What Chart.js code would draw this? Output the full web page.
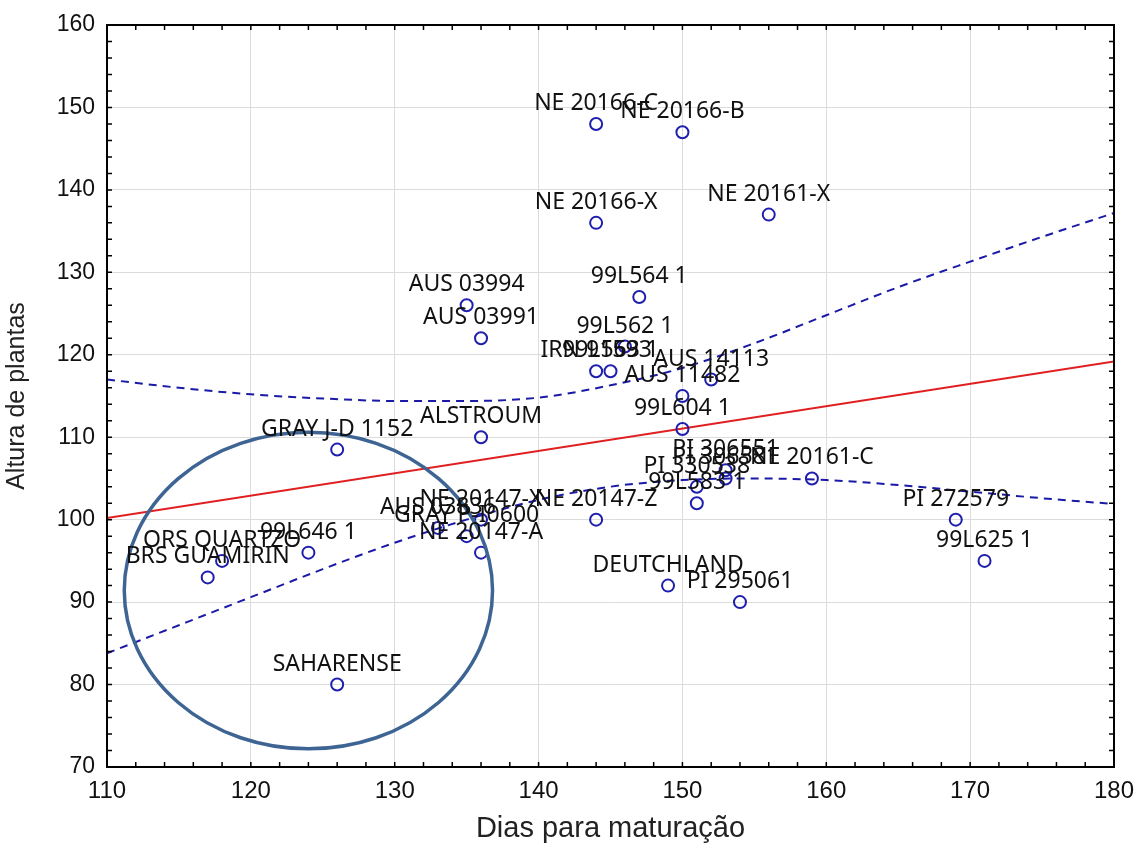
<!DOCTYPE html>
<html>
<head>
<meta charset="utf-8">
<script src="https://cdn.jsdelivr.net/npm/chart.js@4"></script>
<style>
  body { margin: 0; background: #fff; }
  #wrap { width: 1138px; height: 848px; }
</style>
</head>
<body>
<div id="wrap"><canvas id="chart" width="1138" height="848"></canvas></div>
<script>
// genotypes: days to maturity vs plant height
var genotypes = ["NE 20166-C", "NE 20166-B", "NE 20166-X", "NE 20161-X", "AUS 03994", "AUS 03991",
    "99L564 1", "99L562 1", "IRN 91593", "99L563 1", "AUS 14113", "AUS 11482", "ALSTROUM", "99L604 1",
    "GRAY J-D 1152", "AUS 03836", "NE 20147-X", "GRAY P-I0600", "NE 20147-A", "NE 20147-Z", "99L646 1",
    "ORS QUARTZO", "BRS GUAMIRIN", "SAHARENSE", "DEUTCHLAND", "PI 295061", "PI 306551", "PI 306581",
    "PI 330538", "99L583 1", "NE 20161-C", "PI 272579", "99L625 1"];
var dias = [144, 150, 144, 156, 135, 136, 147, 146, 144, 145, 152, 150, 136, 150,
    126, 133, 136, 135, 136, 144, 124, 118, 117, 126, 149, 154, 153, 153, 151, 151, 159, 169, 171];
var altura = [148, 147, 136, 137, 126, 122, 127, 121, 118, 118, 117, 115, 110, 111,
    108.5, 99, 100, 98, 96, 100, 96, 95, 93, 80, 92, 90, 106, 105, 104, 102, 105, 100, 95];

// fitted line and its confidence band
var retaX = [110, 180];
var retaY = [100.2, 119.2];
var bandaX = [110, 115, 120, 125, 130, 135, 140, 145, 150, 155, 160, 165, 170, 175, 180];
var bandaSup = [117.0, 116.0, 115.2, 114.7, 114.4, 114.4, 114.8, 116.3, 118.4, 121.4, 124.8, 128.2, 131.3, 134.3, 137.2];
var bandaInf = [83.8, 87.2, 90.6, 94.0, 97.2, 100.0, 102.4, 104.0, 104.8, 105.0, 104.8, 104.2, 103.4, 102.6, 101.9];

// highlighted group (centre and radii in axis units)
var grupo = { x: 124.0, y: 91.4, rx: 12.8, ry: 19.2 };

function pares(xs, ys) {
    return xs.map(function (x, i) { return { x: x, y: ys[i] }; });
}

var moldura = {
    id: 'moldura',
    afterDatasetsDraw: function (chart) {
        var ctx = chart.ctx, a = chart.chartArea;
        var sx = chart.scales.x, sy = chart.scales.y;
        ctx.save();

        // circled group
        ctx.beginPath();
        var cx = sx.getPixelForValue(grupo.x), cy = sy.getPixelForValue(grupo.y);
        var rx = Math.abs(sx.getPixelForValue(grupo.x + grupo.rx) - cx);
        var ry = Math.abs(sy.getPixelForValue(grupo.y + grupo.ry) - cy);
        ctx.ellipse(cx, cy, rx, ry, 0, 0, Math.PI * 2);
        ctx.strokeStyle = '#3e6494';
        ctx.lineWidth = 3.5;
        ctx.stroke();

        // point labels
        ctx.fillStyle = '#111';
        ctx.font = '23px "Noto Sans"';
        ctx.textAlign = 'center';
        ctx.textBaseline = 'alphabetic';
        genotypes.forEach(function (g, i) {
            ctx.fillText(g, sx.getPixelForValue(dias[i]), sy.getPixelForValue(altura[i]) - 14);
        });

        // frame with inner minor ticks
        ctx.strokeStyle = '#000';
        ctx.lineWidth = 2;
        ctx.strokeRect(a.left, a.top, a.right - a.left, a.bottom - a.top);
        ctx.lineWidth = 1.5;
        ctx.beginPath();
        for (var v = 112; v < 180; v += 2) {
            var px = sx.getPixelForValue(v);
            ctx.moveTo(px, a.bottom); ctx.lineTo(px, a.bottom - 5);
            ctx.moveTo(px, a.top); ctx.lineTo(px, a.top + 5);
        }
        for (var w = 72; w < 160; w += 2) {
            var py = sy.getPixelForValue(w);
            ctx.moveTo(a.left, py); ctx.lineTo(a.left + 5, py);
            ctx.moveTo(a.right, py); ctx.lineTo(a.right - 5, py);
        }
        ctx.stroke();
        ctx.restore();
    }
};

new Chart(document.getElementById('chart'), {
    type: 'scatter',
    data: {
        datasets: [{
            data: pares(dias, altura),
            pointRadius: 6,
            pointBorderWidth: 2,
            borderColor: '#1f1fae',
            backgroundColor: 'rgba(0,0,0,0)',
            order: 0
        }, {
            data: pares(retaX, retaY),
            showLine: true,
            borderColor: '#e02020',
            borderWidth: 2,
            pointRadius: 0,
            order: 1
        }, {
            data: pares(bandaX, bandaSup),
            showLine: true,
            borderColor: '#1a1aa6',
            borderWidth: 2,
            borderDash: [8, 6],
            cubicInterpolationMode: 'monotone',
            pointRadius: 0,
            order: 2
        }, {
            data: pares(bandaX, bandaInf),
            showLine: true,
            borderColor: '#1a1aa6',
            borderWidth: 2,
            borderDash: [8, 6],
            cubicInterpolationMode: 'monotone',
            pointRadius: 0,
            order: 2
        }]
    },
    options: {
        responsive: false,
        animation: false,
        layout: { padding: { left: 0, right: 24, top: 25, bottom: 0 } },
        plugins: { legend: { display: false }, tooltip: { enabled: false } },
        scales: {
            x: {
                type: 'linear', min: 110, max: 180,
                afterFit: function (s) { s.height = 81; s.paddingLeft = 0; s.paddingRight = 0; },
                ticks: { stepSize: 10, padding: 10, color: '#111', font: { family: '"Liberation Sans"', size: 24 } },
                grid: { color: '#dcdcdc', drawTicks: false },
                border: { display: false },
                title: { display: true, text: 'Dias para maturação', color: '#222', padding: { top: 4, bottom: 2 },
                    font: { family: '"Liberation Sans"', size: 29 } }
            },
            y: {
                type: 'linear', min: 70, max: 160,
                afterFit: function (s) { s.width = 107; s.paddingTop = 0; s.paddingBottom = 0; },
                ticks: { stepSize: 10, padding: 12, color: '#111', font: { family: '"Liberation Sans"', size: 23 } },
                grid: { color: '#dcdcdc', drawTicks: false },
                border: { display: false },
                title: { display: true, text: 'Altura de plantas', color: '#222', padding: { top: 2, bottom: 4 },
                    font: { family: '"Liberation Sans"', size: 25 } }
            }
        }
    },
    plugins: [moldura]
});
</script>
</body>
</html>
